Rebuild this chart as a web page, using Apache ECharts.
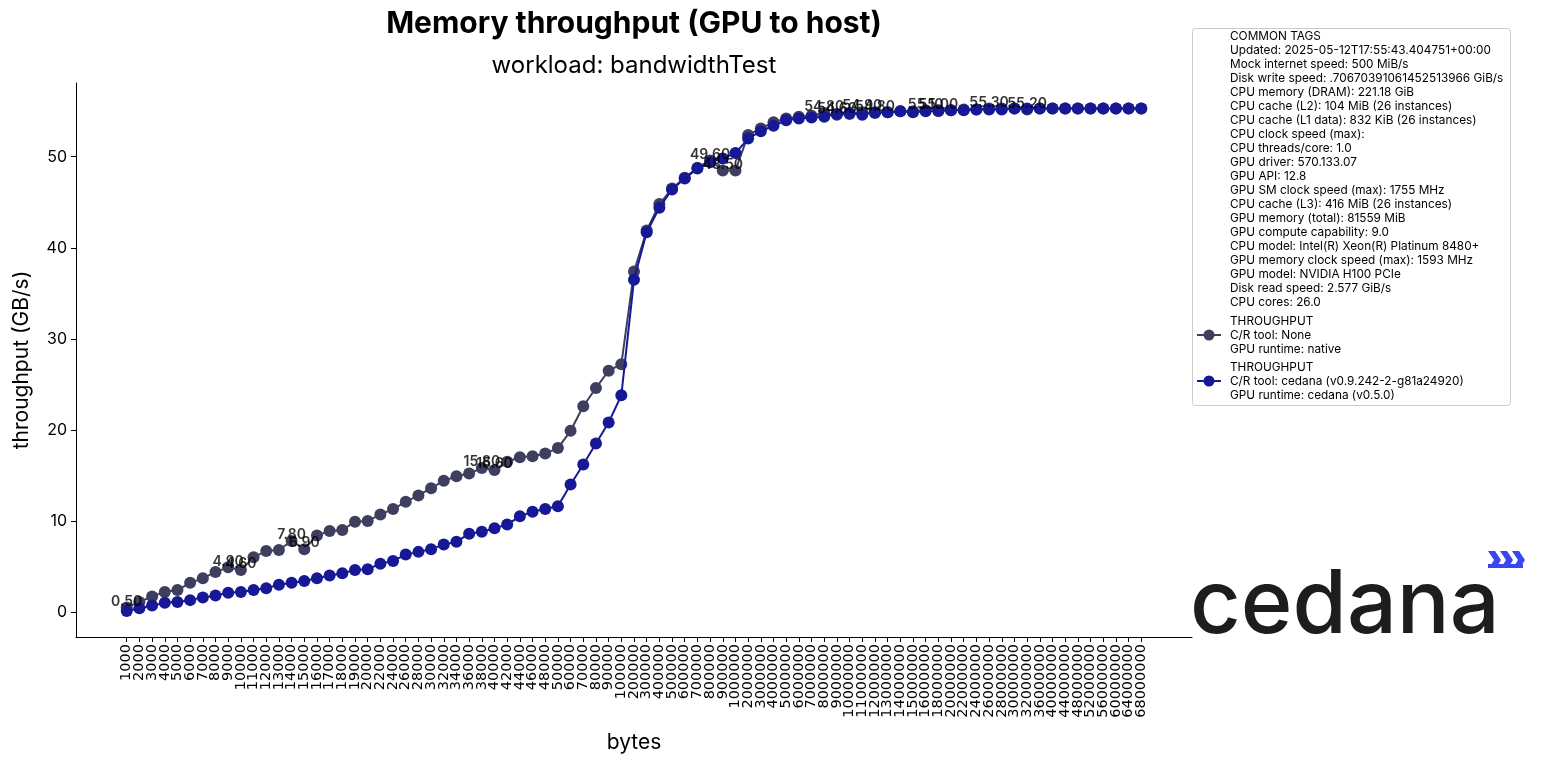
<!DOCTYPE html>
<html>
<head>
<meta charset="utf-8">
<script src="https://cdn.jsdelivr.net/npm/echarts@6/dist/echarts.min.js"></script>
<style>
html, body { margin: 0; padding: 0; background: #fff; }
#chart { width: 1563px; height: 765px; }
</style>
</head>
<body>
<div id="chart"></div>
<script>
// message sizes (bytes) along the x axis
var bytes = [
	1000, 2000, 3000, 4000, 5000, 6000, 7000, 8000, 9000, 10000,
	11000, 12000, 13000, 14000, 15000, 16000, 17000, 18000, 19000, 20000,
	22000, 24000, 26000, 28000, 30000, 32000, 34000, 36000, 38000, 40000,
	42000, 44000, 46000, 48000, 50000, 60000, 70000, 80000, 90000, 100000,
	200000, 300000, 400000, 500000, 600000, 700000, 800000, 900000, 1000000,
	2000000, 3000000, 4000000, 5000000, 6000000, 7000000, 8000000, 9000000, 10000000,
	11000000, 12000000, 13000000, 14000000, 15000000, 16000000,
	18000000, 20000000, 22000000, 24000000, 26000000, 28000000, 30000000, 32000000,
	36000000, 40000000, 44000000, 48000000, 52000000, 56000000, 60000000, 64000000, 68000000
];

// GB/s, C/R tool None, runtime native
var nativeThroughput = [
	0.5, 1.1, 1.7, 2.2, 2.4, 3.2, 3.7, 4.4, 4.9, 4.6,
	6.0, 6.7, 6.8, 7.8, 6.9, 8.4, 8.9, 9.0, 9.9, 10.0,
	10.7, 11.3, 12.1, 12.8, 13.6, 14.4, 14.9, 15.2, 15.8, 15.6,
	16.5, 17.0, 17.1, 17.4, 18.0, 19.9, 22.6, 24.6, 26.5, 27.2,
	37.4, 41.9, 44.8, 46.5, 47.7, 48.8, 49.6, 48.5, 48.5,
	52.4, 53.1, 53.8, 54.2, 54.4, 54.5, 54.8, 54.6, 54.7,
	54.9, 54.8, 54.9, 55.0, 55.0, 55.1,
	55.0, 55.1, 55.2, 55.2, 55.3, 55.3, 55.3, 55.2,
	55.3, 55.3, 55.3, 55.3, 55.3, 55.3, 55.3, 55.3, 55.3
];

// GB/s, C/R tool cedana, runtime cedana
var cedanaThroughput = [
	0.1, 0.4, 0.7, 1.0, 1.1, 1.3, 1.6, 1.8, 2.1, 2.2,
	2.4, 2.6, 3.0, 3.2, 3.4, 3.7, 4.0, 4.25, 4.6, 4.7,
	5.3, 5.6, 6.3, 6.6, 6.9, 7.4, 7.7, 8.6, 8.8, 9.2,
	9.6, 10.5, 11.0, 11.3, 11.6, 14.0, 16.2, 18.5, 20.8, 23.8,
	36.5, 41.7, 44.4, 46.4, 47.6, 48.7, 49.4, 49.8, 50.4,
	52.0, 52.8, 53.4, 54.0, 54.2, 54.3, 54.4, 54.7, 54.8,
	54.6, 54.9, 54.9, 55.0, 54.9, 55.0,
	55.1, 55.1, 55.1, 55.2, 55.2, 55.2, 55.3, 55.3,
	55.3, 55.3, 55.3, 55.3, 55.3, 55.3, 55.3, 55.3, 55.3
];

// points of the native series that carry a value label
var nativeLabelIdx = [0, 8, 9, 13, 14, 28, 29, 46, 47, 55, 56, 58, 59, 63, 64, 68, 71];

var yTicks = [0, 10, 20, 30, 40, 50];

var commonTags = [
	'COMMON TAGS',
	'Updated: 2025-05-12T17:55:43.404751+00:00',
	'Mock internet speed: 500 MiB/s',
	'Disk write speed: .70670391061452513966 GiB/s',
	'CPU memory (DRAM): 221.18 GiB',
	'CPU cache (L2): 104 MiB (26 instances)',
	'CPU cache (L1 data): 832 KiB (26 instances)',
	'CPU clock speed (max):',
	'CPU threads/core: 1.0',
	'GPU driver: 570.133.07',
	'GPU API: 12.8',
	'GPU SM clock speed (max): 1755 MHz',
	'CPU cache (L3): 416 MiB (26 instances)',
	'GPU memory (total): 81559 MiB',
	'GPU compute capability: 9.0',
	'CPU model: Intel(R) Xeon(R) Platinum 8480+',
	'GPU memory clock speed (max): 1593 MHz',
	'GPU model: NVIDIA H100 PCIe',
	'Disk read speed: 2.577 GiB/s',
	'CPU cores: 26.0'
];
var nativeLegend = ['THROUGHPUT', 'C/R tool: None', 'GPU runtime: native'];
var cedanaLegend = ['THROUGHPUT', 'C/R tool: cedana (v0.9.242-2-g81a24920)', 'GPU runtime: cedana (v0.5.0)'];

var FONT = 'Inter, "Noto Sans", sans-serif';
var WIDE_FONT = '"DejaVu Sans", Inter, sans-serif';
var NATIVE_COLOR = '#3e3e5e';
var CEDANA_COLOR = '#161896';
var PAD = 4; // empty slots each side so the points sit inside the axis like matplotlib margins

function padList(list, fill)
{
	var out = [];
	for (var i = 0; i < PAD; i++) out.push(fill(i, 'l'));
	for (var j = 0; j < list.length; j++) out.push(list[j]);
	for (var k = 0; k < PAD; k++) out.push(fill(k, 'r'));
	return out;
}

var categories = padList(bytes.map(String), function(i, s){ return '_' + s + i; });
var nativeData = padList(nativeThroughput, function(){ return null; });
var cedanaData = padList(cedanaThroughput, function(){ return null; });
var labelData = padList(nativeThroughput.map(function(v, i){
	return nativeLabelIdx.indexOf(i) >= 0 ? v : null;
}), function(){ return null; });

function isRealCat(index)
{
	return index >= PAD && index < PAD + bytes.length;
}

var chart = echarts.init(document.getElementById('chart'), null, { renderer: 'canvas' });

// legend panel drawn as graphics
var legendX = 1192, legendY = 28, lineH = 14.0, textX = 1230;
var legendFont = 11.8;
var legendGraphics = [{
	type: 'rect',
	shape: { x: legendX + 0.5, y: legendY + 0.5, width: 318, height: 377, r: 3 },
	style: { fill: '#fff', stroke: '#cccccc', lineWidth: 1 },
	z: 1
}];
var ty = 36;
commonTags.forEach(function(t){
	legendGraphics.push({ type: 'text', x: textX, y: ty, z: 2,
		style: { text: t, fontSize: legendFont, fontFamily: FONT, fill: '#000', textVerticalAlign: 'middle' } });
	ty += lineH;
});
[[nativeLegend, NATIVE_COLOR, 321], [cedanaLegend, CEDANA_COLOR, 367]].forEach(function(g){
	var y0 = g[2];
	g[0].forEach(function(t, i){
		legendGraphics.push({ type: 'text', x: textX, y: y0 + i * lineH, z: 2,
			style: { text: t, fontSize: legendFont, fontFamily: FONT, fill: '#000', textVerticalAlign: 'middle' } });
	});
	var my = y0 + lineH;
	legendGraphics.push({ type: 'line', z: 2, shape: { x1: 1197, y1: my, x2: 1221, y2: my },
		style: { stroke: g[1], lineWidth: 2 } });
	legendGraphics.push({ type: 'circle', z: 3, shape: { cx: 1209, cy: my, r: 5.5 },
		style: { fill: g[1] } });
});

// logo
var logoGraphics = [
	{ type: 'text', x: 1190, y: 607, z: 2,
		style: { text: 'cedana', fontSize: 88, fontWeight: 500, fontFamily: FONT, fill: '#1d1d1d',
			textVerticalAlign: 'middle' } }
];
[1488, 1500, 1512].forEach(function(x){
	logoGraphics.push({ type: 'polygon', z: 2,
		shape: { points: [[x, 551], [x + 7, 551], [x + 13, 560], [x + 8, 568], [x + 1, 568], [x + 6, 560]] },
		style: { fill: '#3a45f2' } });
});
logoGraphics.push({ type: 'rect', z: 2, shape: { x: 1488, y: 564, width: 35, height: 4 },
	style: { fill: '#3a45f2' } });

var option = {
	animation: false,
	backgroundColor: '#fff',
	textStyle: { fontFamily: FONT },
	grid: { left: 76, right: 371, top: 83, bottom: 128, containLabel: false },
	graphic: [
		{ type: 'text', x: 634, y: 24, z: 2,
			style: { text: 'Memory throughput (GPU to host)', fontSize: 30, fontWeight: 'bold',
				fontFamily: FONT, fill: '#000', textAlign: 'center', textVerticalAlign: 'middle' } },
		{ type: 'text', x: 634, y: 66, z: 2,
			style: { text: 'workload: bandwidthTest', fontSize: 24,
				fontFamily: FONT, fill: '#000', textAlign: 'center', textVerticalAlign: 'middle' } }
	].concat(legendGraphics).concat(logoGraphics),
	xAxis: {
		type: 'category',
		data: categories,
		boundaryGap: false,
		name: 'bytes',
		nameLocation: 'middle',
		nameGap: 95,
		nameTextStyle: { fontSize: 21, color: '#000', fontFamily: FONT },
		axisLine: { show: true, onZero: false, lineStyle: { color: '#000', width: 1 } },
		axisTick: { show: true, length: 5, interval: function(i){ return isRealCat(i); },
			lineStyle: { color: '#000' } },
		axisLabel: {
			interval: 0,
			hideOverlap: false,
			formatter: function(v, i){ return isRealCat(i) ? v : ''; },
			rotate: 90, fontSize: 14.5, lineHeight: 10, color: '#000', margin: 7, fontFamily: WIDE_FONT
		},
		splitLine: { show: false }
	},
	yAxis: {
		type: 'value',
		min: -2.75,
		max: 58.1,
		name: 'throughput (GB/s)',
		nameLocation: 'middle',
		nameGap: 44,
		nameTextStyle: { fontSize: 21, color: '#000', fontFamily: FONT },
		axisLine: { show: true, lineStyle: { color: '#000', width: 1 } },
		axisTick: { show: true, length: 5, customValues: yTicks, lineStyle: { color: '#000' } },
		axisLabel: { customValues: yTicks, fontSize: 16, color: '#000', margin: 9, fontFamily: FONT },
		splitLine: { show: false }
	},
	series: [
		{
			name: 'native',
			type: 'line',
			data: nativeData,
			symbol: 'circle',
			symbolSize: 12,
			showAllSymbol: true,
			connectNulls: false,
			itemStyle: { color: NATIVE_COLOR },
			lineStyle: { color: NATIVE_COLOR, width: 2 },
			emphasis: { disabled: true },
			z: 2
		},
		{
			name: 'cedana',
			type: 'line',
			data: cedanaData,
			symbol: 'circle',
			symbolSize: 12,
			showAllSymbol: true,
			connectNulls: false,
			itemStyle: { color: CEDANA_COLOR },
			lineStyle: { color: CEDANA_COLOR, width: 2 },
			emphasis: { disabled: true },
			z: 3
		},
		{
			name: 'native labels',
			type: 'scatter',
			data: labelData,
			symbolSize: 2,
			itemStyle: { color: 'rgba(0,0,0,0)' },
			silent: true,
			label: {
				show: true,
				position: 'inside',
				offset: [0, -6],
				fontSize: 14,
				fontWeight: 600,
				color: '#000',
				fontFamily: FONT,
				formatter: function(p){ return Number(p.value).toFixed(2); }
			},
			emphasis: { disabled: true },
			z: 5
		}
	]
};
chart.setOption(option);
</script>
</body>
</html>
